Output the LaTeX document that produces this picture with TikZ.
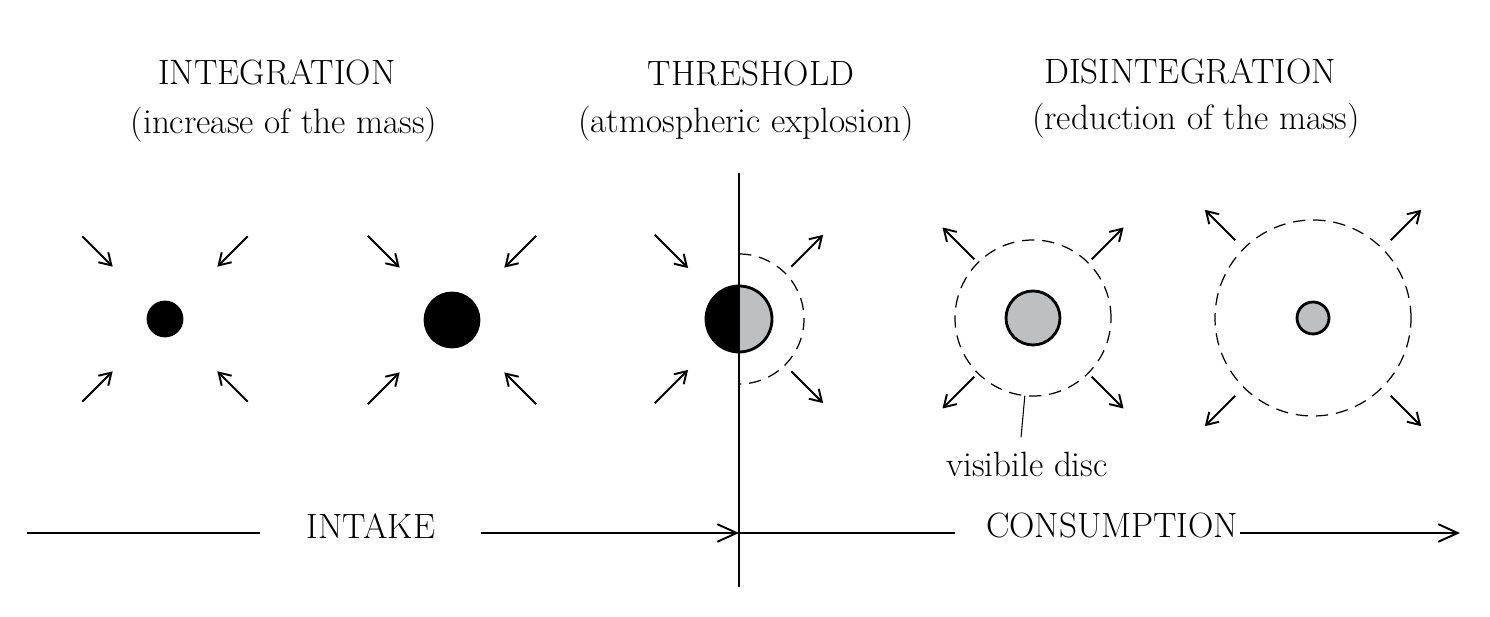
\documentclass[tikz,border=0pt]{standalone}
\usetikzlibrary{arrows.meta}
\definecolor{ash}{RGB}{190,191,193}
\tikzset{
  txt/.style={font=\fontsize{20}{24}\selectfont},
  disc/.style={circle, draw, line width=1.6pt, inner sep=0pt},
  halo/.style={dash pattern=on 7pt off 4.5pt, line width=0.7pt},
  ray/.style={-{Straight Barb[length=6.5pt,width=8pt]}, line width=1.1pt},
  axis/.style={line width=1.1pt}
}
\begin{document}
\begin{tikzpicture}[x=0.02cm, y=0.02cm]
    \useasboundingbox (0,0) rectangle (1490,617);

    \node[txt] (integ) at (277,545) {INTEGRATION};
    \node[txt] (integsub) at (284,492) {(increase of the mass)};
    \node[txt] (thresh) at (751,543) {THRESHOLD};
    \node[txt] (threshsub) at (746,493) {(atmospheric explosion)};
    \node[txt] (disint) at (1190,546) {DISINTEGRATION};
    \node[txt] (disintsub) at (1196,496) {(reduction of the mass)};

    \node[disc, fill=black, minimum size=0.68cm] (d1) at (165,298) {};
    \node[disc, fill=black, minimum size=1.08cm] (d2) at (452,297) {};
    \node[disc, fill=ash, minimum size=1.32cm] (d3) at (739,298) {};
    \fill (d3.center) -- ++(0,33) arc[start angle=90, end angle=270, radius=33] -- cycle;
    \node[disc, fill=ash, minimum size=1.08cm] (d4) at (1033,299) {};
    \node[disc, fill=ash, minimum size=0.64cm] (d5) at (1313,299) {};

    \draw[halo] ([shift={(90:65)}]d3.center) arc[start angle=90, end angle=-90, radius=65];
    \draw[halo] (d4.center) circle[radius=78];
    \draw[halo] (d5.center) circle[radius=98];

    \foreach \a in {45,135,225,315} {
        \draw[ray] ([shift={(\a:117)}]d1.center) -- ([shift={(\a:74)}]d1.center);
        \draw[ray] ([shift={(\a:119)}]d2.center) -- ([shift={(\a:74)}]d2.center);
        \draw[ray] ([shift={(\a:83)}]d4.center) -- ([shift={(\a:128)}]d4.center);
        \draw[ray] ([shift={(\a:110)}]d5.center) -- ([shift={(\a:153)}]d5.center);
    }
    \foreach \a in {135,225}
        \draw[ray] ([shift={(\a:119)}]d3.center) -- ([shift={(\a:72)}]d3.center);
    \foreach \a in {45,-45}
        \draw[ray] ([shift={(\a:74)}]d3.center) -- ([shift={(\a:119)}]d3.center);

    \node[txt] (vis) at (1027,153) {visibile disc};
    \draw[line width=0.6pt] ([shift={(-96:78)}]d4.center) -- ([shift={(-6,8)}]vis.north);

    \coordinate (top) at (739,444);
    \coordinate (bottom) at (739,30);
    \draw[axis] (top) -- (bottom);

    \node[txt] (intake) at (371,91) {INTAKE};
    \node[txt] (consum) at (1112,91) {CONSUMPTION};
    \coordinate (a0) at (27,84);
    \coordinate (a1) at (260,84);
    \coordinate (a2) at (481,84);
    \coordinate (cross) at (739,84);
    \coordinate (a3) at (955,84);
    \coordinate (a4) at (1240,84);
    \coordinate (a5) at (1460,84);
    \draw[axis] (a0) -- (a1);
    \draw[axis, -{Straight Barb[length=11pt,width=10pt]}] (a2) -- (cross);
    \draw[axis] (cross) -- (a3);
    \draw[axis, -{Straight Barb[length=11pt,width=10pt]}] (a4) -- (a5);
\end{tikzpicture}
\end{document}
